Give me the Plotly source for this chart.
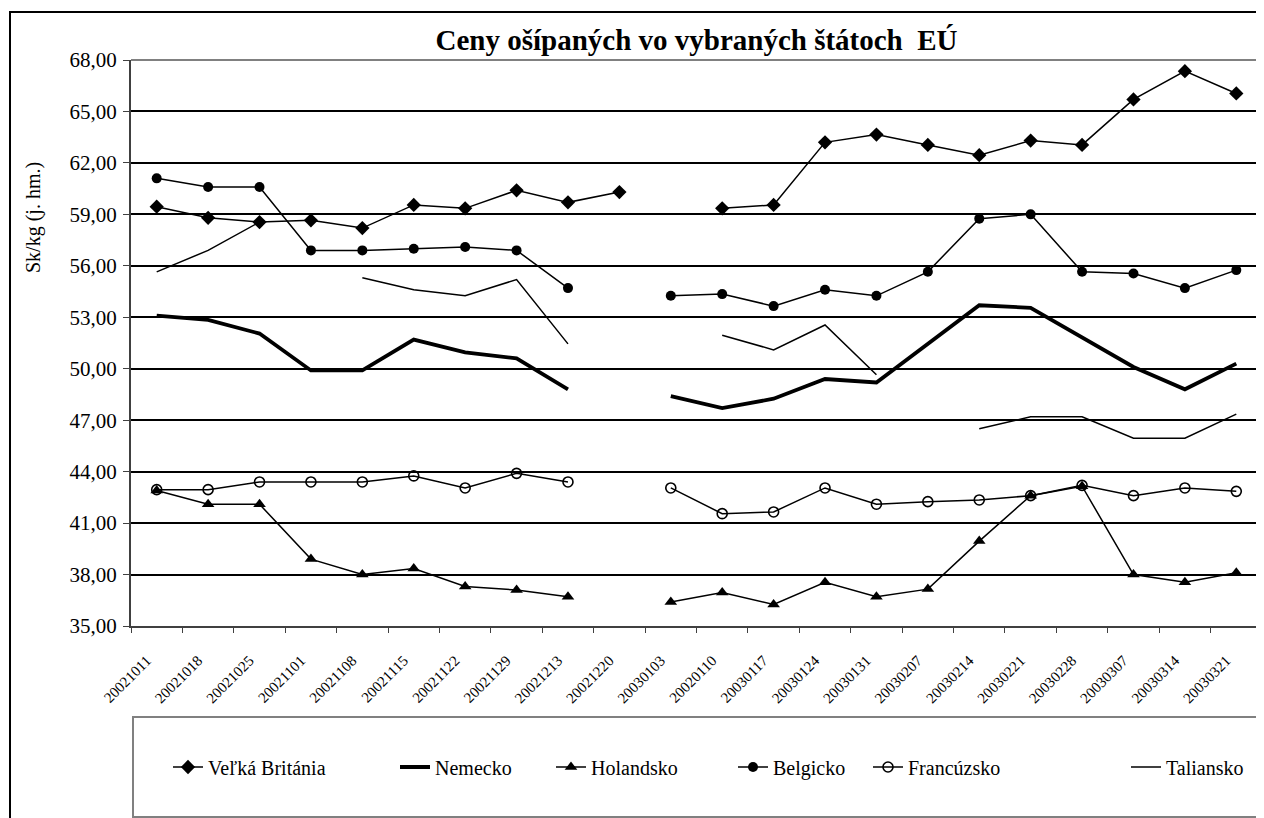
import plotly.graph_objects as go

dates = ["20021011", "20021018", "20021025", "20021101", "20021108", "20021115",
         "20021122", "20021129", "20021213", "20021220", "20030103", "20020110",
         "20030117", "20030124", "20030131", "20030207", "20030214", "20030221",
         "20030228", "20030307", "20030314", "20030321"]

velka_britania = [59.45, 58.8, 58.55, 58.65, 58.2, 59.55, 59.35, 60.4, 59.7, 60.3, None,
                  59.35, 59.55, 63.2, 63.65, 63.05, 62.45, 63.3, 63.05, 65.7, 67.35, 66.05]
nemecko = [53.1, 52.85, 52.05, 49.9, 49.9, 51.7, 50.95, 50.6, 48.8, None, 48.4,
           47.7, 48.25, 49.4, 49.2, 51.45, 53.7, 53.55, 51.85, 50.1, 48.8, 50.3]
holandsko = [42.9, 42.1, 42.1, 38.9, 38.0, 38.35, 37.3, 37.1, 36.7, None, 36.4,
             36.95, 36.25, 37.55, 36.7, 37.15, 39.95, 42.6, 43.15, 38.0, 37.55, 38.1]
belgicko = [61.1, 60.6, 60.6, 56.9, 56.9, 57.0, 57.1, 56.9, 54.7, None, 54.25,
            54.35, 53.65, 54.6, 54.25, 55.65, 58.75, 59.0, 55.65, 55.55, 54.7, 55.75]
francuzsko = [42.95, 42.95, 43.4, 43.4, 43.4, 43.75, 43.05, 43.9, 43.4, None, 43.05,
              41.55, 41.65, 43.05, 42.1, 42.25, 42.35, 42.6, 43.2, 42.6, 43.05, 42.85]
taliansko = [55.65, 56.9, 58.55, None, 55.3, 54.6, 54.25, 55.2, 51.45, None, None,
             51.95, 51.1, 52.55, 49.65, None, 46.5, 47.2, 47.2, 45.95, 45.95, 47.35]

y_ticks = [35, 38, 41, 44, 47, 50, 53, 56, 59, 62, 65, 68]
y_ticktext = ["35,00", "38,00", "41,00", "44,00", "47,00", "50,00", "53,00",
              "56,00", "59,00", "62,00", "65,00", "68,00"]

title_text = "Ceny ošípaných vo vybraných štátoch  EÚ"
y_title = "Sk/kg (j. hm.)"

# page body has an 8px margin; work in screen coordinates and convert
OFF = 8
W, H = 1264, 818
L, R, T, B = 131 - OFF, 1262 - OFF, 60 - OFF, 626 - OFF


def px(xs):
    return (xs - OFF - L) / (R - L)


def py(ys):
    return (B - (ys - OFF)) / (B - T)


SERIF = "Liberation Serif"

fig = go.Figure()

series = [
    ("Veľká Británia", velka_britania, dict(symbol="diamond", size=11, color="black"), 1.5, "lines+markers", 182),
    ("Nemecko", nemecko, None, 3.8, "lines", 111),
    ("Holandsko", holandsko, dict(symbol="triangle-up", size=11, color="black"), 1.5, "lines+markers", 137),
    ("Belgicko", belgicko, dict(symbol="circle", size=10, color="black"), 1.5, "lines+markers", 90),
    ("Francúzsko", francuzsko, dict(symbol="circle-open", size=10, color="black", line=dict(width=1.6, color="black")), 1.5, "lines+markers", 213),
    ("Taliansko", taliansko, None, 1.5, "lines", 80),
]

for name, vals, marker, lw, mode, lwid in series:
    kw = dict(x=dates, y=vals, name=name, mode=mode,
              line=dict(color="black", width=lw), connectgaps=False,
              legendwidth=lwid)
    if marker is not None:
        kw["marker"] = marker
    fig.add_trace(go.Scatter(**kw))

shapes = [
    # outer chart frame
    dict(type="rect", xref="paper", yref="paper", x0=px(10), x1=px(1300), y0=py(860), y1=py(12),
         line=dict(color="black", width=2), layer="below"),
    # plot area top and right border (gray)
    dict(type="line", xref="paper", yref="paper", x0=0, x1=1, y0=1, y1=1,
         line=dict(color="#808080", width=2), layer="above"),
    dict(type="line", xref="paper", yref="paper", x0=1, x1=1, y0=0, y1=1,
         line=dict(color="#808080", width=2), layer="above"),
    # legend box
    dict(type="rect", xref="paper", yref="paper", x0=px(133), x1=px(1300), y0=py(817), y1=py(717),
         line=dict(color="#808080", width=2), layer="below"),
]

fig.update_layout(
    width=W, height=H,
    margin=dict(l=L, r=W - R, t=T, b=H - B),
    paper_bgcolor="white", plot_bgcolor="white",
    font=dict(family=SERIF, color="black", size=18),
    title=dict(text="<b>" + title_text + "</b>", x=0.5, xref="paper",
               y=1 - (40 - OFF) / H, yref="container", yanchor="middle", xanchor="center",
               font=dict(family=SERIF, size=29, color="black")),
    showlegend=True,
    legend=dict(orientation="h", x=px(168), xanchor="left", y=py(767), yanchor="middle",
                font=dict(family=SERIF, size=20, color="black"),
                bgcolor="rgba(0,0,0,0)", borderwidth=0, traceorder="normal"),
    shapes=shapes,
    annotations=[dict(text=y_title, textangle=-90, xref="paper", yref="paper",
                      x=px(33), y=py(218), xanchor="center", yanchor="middle", showarrow=False,
                      font=dict(family=SERIF, size=20, color="black"))],
)

fig.update_xaxes(type="category", categoryorder="array", categoryarray=dates,
                 range=[-0.5, len(dates) - 0.5], autorange=False,
                 tickangle=-45, tickfont=dict(family=SERIF, size=15, color="black"),
                 ticks="outside", ticklen=5, tickcolor="#404040", tickson="boundaries",
                 showline=True, linecolor="#404040", linewidth=2, showgrid=False,
                 ticklabelstandoff=18, ticklabelshift=-10, zeroline=False)

fig.update_yaxes(range=[35, 68], autorange=False, tickvals=y_ticks, ticktext=y_ticktext,
                 tickfont=dict(family=SERIF, size=21, color="black"),
                 ticks="outside", ticklen=6, tickcolor="#404040",
                 showline=True, linecolor="#404040", linewidth=2,
                 showgrid=True, gridcolor="black", gridwidth=2, zeroline=False,
                 ticklabelstandoff=2)

fig.write_html("out.html")
